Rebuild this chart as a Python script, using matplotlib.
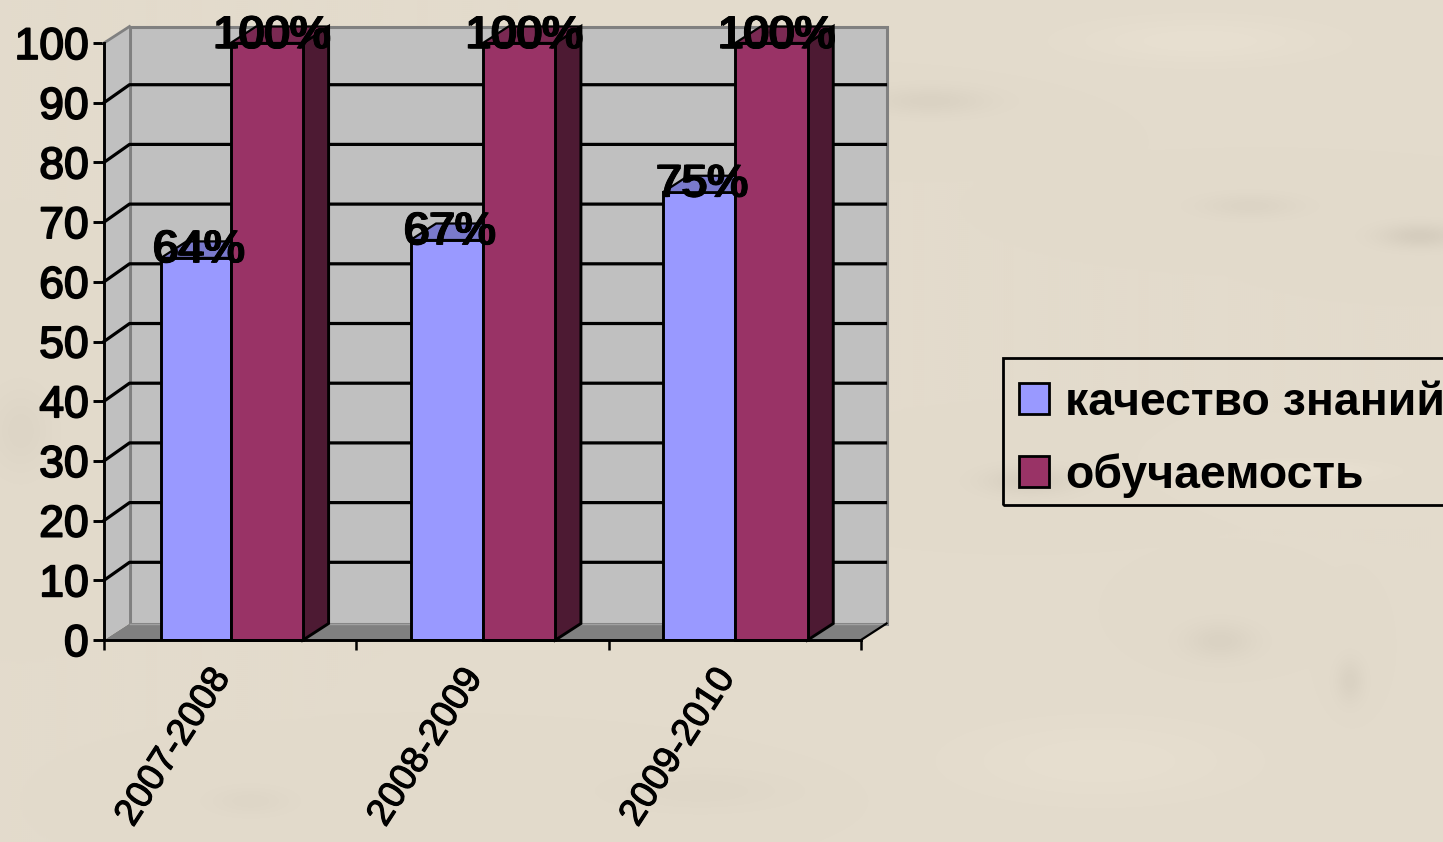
#!/usr/bin/env python3
import numpy as np
import matplotlib
matplotlib.use("Agg")
import matplotlib.pyplot as plt
from matplotlib.patches import Polygon, Patch, Rectangle
from matplotlib.transforms import ScaledTranslation
import matplotlib.patheffects as pe

plt.rcParams["font.family"] = ["Liberation Sans", "DejaVu Sans"]

years = ["2007-2008", "2008-2009", "2009-2010"]
quality = [64, 67, 75]
learning = [100, 100, 100]
series_names = ["качество знаний", "обучаемость"]
yticks = [0, 10, 20, 30, 40, 50, 60, 70, 80, 90, 100]

W, H = 1443, 842
LIGHT, LIGHT_TOP = "#9999FF", "#7A7ACC"
DARK, DARK_TOP, DARK_SIDE = "#993366", "#7A2952", "#4D1A33"

# soft stains of the paper background (x, y, sx, sy, strength), in pixels
stains = [(930, 100, 60, 14, -9), (1420, 235, 40, 12, -14), (1250, 205, 50, 12, -7),
          (1030, 480, 45, 14, -12), (1220, 640, 35, 18, -9), (1350, 680, 14, 22, -9),
          (20, 430, 30, 40, -6), (1200, 40, 120, 22, 5), (1310, 470, 70, 10, 6),
          (700, 790, 90, 20, -4), (250, 800, 40, 14, -5), (1100, 760, 140, 40, 4)]

fig = plt.figure(figsize=(W / 100, H / 100), dpi=100)
bgax = fig.add_axes([0, 0, 1, 1], zorder=0)
yy, xx = np.mgrid[0:H:2, 0:W:2]
tex = np.zeros(xx.shape)
for sx0, sy0, sx, sy, amt in stains:
    tex += amt * np.exp(-((xx - sx0) / sx) ** 2 - ((yy - sy0) / sy) ** 2)
base = np.array([0xE3, 0xDB, 0xCC], dtype=float)
img = np.clip((base[None, None, :] + tex[..., None]) / 255, 0, 1)
bgax.imshow(img, extent=(0, W, H, 0), aspect="auto", interpolation="bilinear")
bgax.axis("off")

# front plane of the plot: x 104..861, y 640..43 px
ax = fig.add_axes([104 / W, 1 - 640 / H, 757 / W, 597 / H], zorder=1)
ax.patch.set_alpha(0)
ax.set_xlim(0, 3)
ax.set_ylim(0, 100)

# depth of the fake 3D box, in data units
DX = 25.5 / (757 / 3)
DY = 16.5 / (597 / 100)
TOP = 100


def poly(pts, fc, ec="none", lw=0, z=1):
    ax.add_patch(Polygon(pts, closed=True, facecolor=fc, edgecolor=ec, linewidth=lw,
                         zorder=z, clip_on=False, joinstyle="miter"))


# walls and floor
poly([(0, 0), (DX, DY), (3 + DX, DY), (3, 0)], "#808080", z=1)
poly([(DX, DY), (DX, TOP + DY), (3 + DX, TOP + DY), (3 + DX, DY)], "#C0C0C0", "#808080", 2.2, z=1)
poly([(0, 0), (DX, DY), (DX, TOP + DY), (0, TOP)], "#C0C0C0", z=1)
ax.plot([0, DX], [TOP, TOP + DY], color="#808080", lw=2, zorder=2, clip_on=False)
ax.plot([DX, DX], [DY, TOP + DY], color="#808080", lw=2, zorder=2, clip_on=False)
ax.plot([DX, 3 + DX], [DY, DY], color="#A0A0A0", lw=1, zorder=2, clip_on=False)

for t in yticks[1:-1]:
    ax.plot([0, DX, 3 + DX - 0.004], [t, t + DY + 0.25, t + DY + 0.25], color="black", lw=2.3,
            zorder=3, clip_on=False)
ax.plot([3, 3 + DX], [0, DY], color="black", lw=1.6, zorder=3, clip_on=False)

label_fx = [pe.withStroke(linewidth=0.7, foreground="black")]

# bars, with their side and top faces
x = np.arange(len(years))
left = x + 0.215
bw = 0.287
first_trim = [0.011, 0, 0]
for i in range(len(years)):
    xl = left[i] + first_trim[i]
    xm = left[i] + bw
    xr = xm + bw
    q, l = quality[i], learning[i]
    ax.bar(xl, q, width=xm - xl, align="edge", color=LIGHT, edgecolor="black", linewidth=2.1, zorder=4)
    poly([(xl, q), (xl + DX, q + DY), (xm + DX, q + DY), (xm, q)], LIGHT_TOP, "black", 1.6, z=4)
    poly([(xr, 0), (xr + DX, DY), (xr + DX, l + DY), (xr, l)], DARK_SIDE, "black", 2.1, z=5)
    poly([(xm, l), (xm + DX, l + DY), (xr + DX, l + DY), (xr, l)], DARK_TOP, "black", 1.6, z=5)
    ax.bar(xm, l, width=bw, align="edge", color=DARK, edgecolor="black", linewidth=2.1, zorder=6,
           clip_on=False)
    # data labels are struck twice in the original
    for dx in (0, 1.3):
        ax.annotate(f"{q}%", (xl + (xm - xl) / 2, q), xytext=(1.5 + dx, 5.5), textcoords="offset points",
                    ha="center", va="center", fontsize=33, color="black", zorder=8,
                    annotation_clip=False, path_effects=label_fx)
        ax.annotate(f"{l}%", (xm + bw / 2, l), xytext=(3 + dx, 5), textcoords="offset points",
                    ha="center", va="center", fontsize=33, color="black", zorder=8,
                    annotation_clip=False, path_effects=label_fx)

# axes
for s in ("top", "right"):
    ax.spines[s].set_visible(False)
for s in ("left", "bottom"):
    ax.spines[s].set_linewidth(2.1)
    ax.spines[s].set_zorder(7)
ax.set_yticks(yticks)
ax.tick_params(axis="y", length=8, width=2.1, pad=3, labelsize=32)
for lab in ax.get_yticklabels():
    lab.set_path_effects([pe.withStroke(linewidth=1.3, foreground="black")])
ax.set_xticks(np.arange(len(years) + 1))
ax.set_xticklabels([])
ax.tick_params(axis="x", which="major", length=7, width=1.8)
ax.set_xticks(x + 0.5, minor=True)
ax.set_xticklabels(years, minor=True, rotation=57, ha="right", va="top", rotation_mode="anchor",
                   fontsize=27)
ax.tick_params(axis="x", which="minor", length=0, pad=16)
shift = ScaledTranslation(-23 / 100, 0, fig.dpi_scale_trans)
for lab in ax.get_xticklabels(minor=True):
    lab.set_transform(lab.get_transform() + shift)
    lab.set_path_effects([pe.withStroke(linewidth=0.8, foreground="black")])

# legend frame runs off the right edge of the picture
fig.add_artist(Rectangle((1003 / W, 1 - 505 / H), 460 / W, 147 / H, transform=fig.transFigure,
                         facecolor="none", edgecolor="black", linewidth=2, zorder=9))
handles = [Patch(facecolor=LIGHT, edgecolor="black", linewidth=2),
           Patch(facecolor=DARK, edgecolor="black", linewidth=2)]
leg = fig.legend(handles, series_names, loc="upper left",
                 bbox_to_anchor=(1019 / W, 1 - 381 / H), bbox_transform=fig.transFigure,
                 prop={"weight": "bold", "size": 33.4}, frameon=False, borderpad=0, borderaxespad=0,
                 handlelength=0.65, handleheight=0.65, handletextpad=0.345, labelspacing=0.61)
leg.set_zorder(9)

fig.savefig("out.png", dpi=100)
